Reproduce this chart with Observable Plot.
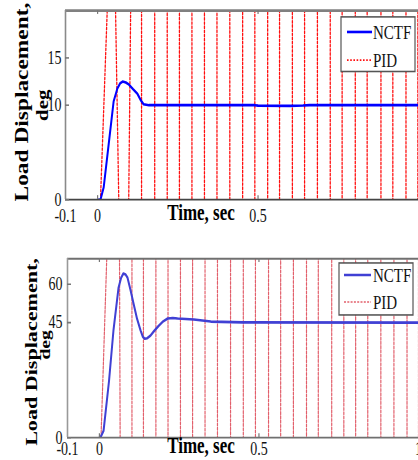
<!DOCTYPE html>
<html><head><meta charset="utf-8">
<script src="https://cdn.jsdelivr.net/npm/d3@7"></script>
<script src="https://cdn.jsdelivr.net/npm/@observablehq/plot@0.6"></script>
<style>
html,body{margin:0;padding:0;background:#fff;width:418px;height:460px;overflow:hidden}
#wrap{position:relative;width:418px;height:460px;overflow:hidden}
#wrap svg{position:absolute;left:0;transform-origin:0 0;overflow:hidden}
</style></head><body><div id="wrap"></div>
<script>
// ---------- data ----------
const xTickLabels = [-0.1, 0, 0.5, 1];

// Panel 1
const topYTicks = [0, 10, 15];
const topNctfT = [0, 0.009, 0.019, 0.035, 0.05, 0.062, 0.07, 0.078, 0.088, 0.097, 0.11, 0.124, 0.135, 0.143, 0.16, 0.3, 0.49, 0.5, 0.6, 0.64, 0.66, 1.0];
const topNctfV = [0, 0, 1.3, 6, 10.4, 11.8, 12.3, 12.5, 12.4, 12.2, 11.7, 11.2, 10.5, 10.1, 10.0, 10.0, 10.0, 9.95, 9.93, 9.96, 10.0, 10.0];
// PID oscillates far off-scale: times where each stroke crosses the first and the second edge of the frame
const topPidFrom = [0.009, 0.056, 0.097, 0.137, 0.178, 0.217, 0.255, 0.294, 0.333, 0.372, 0.412, 0.452, 0.490, 0.530, 0.567, 0.607, 0.645, 0.685, 0.725, 0.762, 0.803, 0.840, 0.883, 0.920, 0.961, 0.998];
const topPidTo   = [0.030, 0.066, 0.103, 0.137, 0.178, 0.217, 0.255, 0.294, 0.333, 0.372, 0.412, 0.452, 0.490, 0.530, 0.567, 0.607, 0.645, 0.685, 0.725, 0.762, 0.803, 0.840, 0.883, 0.920, 0.961, 0.998];
const topPidLow = -4, topPidHigh = 24;

// Panel 2
const botYTicks = [0, 45, 60];
const botNctfT = [0, 0.003, 0.013, 0.03, 0.044, 0.06, 0.068, 0.075, 0.082, 0.088, 0.097, 0.107, 0.118, 0.129, 0.136, 0.142, 0.15, 0.16, 0.172, 0.186, 0.2, 0.214, 0.23, 0.245, 0.296, 0.349, 0.45, 1.0];
const botNctfV = [0, 0, 2.7, 22, 41.9, 58.7, 62.5, 64.2, 63.8, 62.6, 58, 52.4, 46.5, 41.9, 39.5, 38.7, 38.9, 39.9, 41.8, 43.8, 45.5, 46.6, 46.8, 46.6, 46.2, 45.4, 45.1, 45.0];
const botPidFrom = [0.005, 0.063, 0.102, 0.138, 0.177, 0.215, 0.254, 0.292, 0.331, 0.370, 0.411, 0.451, 0.489, 0.530, 0.568, 0.608, 0.649, 0.686, 0.728, 0.766, 0.803, 0.841, 0.882, 0.923, 0.964, 1.0];
const botPidTo   = [0.023, 0.065, 0.102, 0.138, 0.177, 0.215, 0.254, 0.292, 0.331, 0.370, 0.411, 0.451, 0.489, 0.530, 0.568, 0.608, 0.649, 0.686, 0.728, 0.766, 0.803, 0.841, 0.882, 0.923, 0.964, 1.0];
const botPidLow = -10, botPidHigh = 84;

const seriesNames = ["NCTF", "PID"];
const yLabel1 = "Load Displacement,";
const yLabel2 = "deg";
const xLabel = "Time, sec";

// ---------- helpers ----------
const K = 1.3;      // the original picture is stretched vertically
const W = 418;
const serif = "'Liberation Serif','Times New Roman',serif";

function pts(T, V) { return T.map((t, i) => ({t, v: V[i]})); }
// strokes alternate up / down; extend each stroke beyond the frame edges
function pidPts(from, to, y0, y1, lo, hi) {
  const out = [];
  from.forEach((a, i) => {
    const b = to[i];
    if (i % 2 === 0) { // up: crosses y0 at a, y1 at b
      const s = (b - a) / (y1 - y0);
      out.push({t: a + (lo - y0) * s, v: lo}, {t: b + (hi - y1) * s, v: hi});
    } else {           // down: crosses y1 at a, y0 at b
      const s = (b - a) / (y1 - y0);
      out.push({t: a - (hi - y1) * s, v: hi}, {t: b - (lo - y0) * s, v: lo});
    }
  });
  return out;
}

function panel(o) {
  const plotH = o.h - o.mt - o.mb;
  const yUnit = (o.yDomain[1] - o.yDomain[0]) / plotH;
  const xUnit = 1.1 / (W - o.ml);
  const tickLenY = 3 * yUnit, tickLenX = 4 * xUnit;
  const inner = [0, 0.5];
  const svg = Plot.plot({
    width: W, height: o.h,
    marginLeft: o.ml, marginRight: 0, marginTop: o.mt, marginBottom: o.mb,
    style: {fontFamily: serif, fontSize: "14px", color: "#111", background: "transparent"},
    x: {domain: [-0.1, 1], ticks: o.xTicks, tickFormat: d => String(d), tickSize: 0, tickPadding: o.padX, label: null},
    y: {domain: o.yDomain, ticks: o.yTicks, tickFormat: d => String(d), tickSize: 0, tickPadding: o.padY, label: null},
    marks: [
      Plot.line(o.pid, {x: "t", y: "v", stroke: o.pidColor, strokeWidth: o.pidWidth, strokeDasharray: o.pidDash, clip: true}),
      Plot.line(o.nctf, {x: "t", y: "v", stroke: o.nctfColor, strokeWidth: 2, clip: true}),
      Plot.ruleY([o.yDomain[1]], {stroke: o.frameTop, strokeWidth: o.frameTopW}),
      Plot.ruleY([o.yDomain[0]], {stroke: o.frameBottom, strokeWidth: 1.3}),
      Plot.ruleX([-0.1], {stroke: o.frameLeft, strokeWidth: 1.6}),
      Plot.ruleX(inner, {y1: o.yDomain[0], y2: o.yDomain[0] + tickLenY, stroke: "#777", strokeWidth: 1.2}),
      Plot.ruleX(inner, {y1: o.yDomain[1] - tickLenY, y2: o.yDomain[1], stroke: "#777", strokeWidth: 1.2}),
      Plot.ruleY(o.yTicks, {x1: -0.1, x2: -0.1 + tickLenX, stroke: "#777", strokeWidth: 1.2})
    ]
  });
  svg.style.top = o.top + "px";
  svg.style.transform = `scaleY(${K})`;
  const s = d3.select(svg);
  // legend
  const L = o.legend;
  const g = s.append("g").attr("font-family", serif).attr("font-size", 15).attr("fill", "#111").attr("text-anchor", "start");
  g.append("rect").attr("x", L.x).attr("y", L.y).attr("width", L.w).attr("height", L.h)
    .attr("fill", "#fff").attr("stroke", "#555").attr("stroke-width", 1.2);
  const rows = [
    {name: seriesNames[0], y: L.y1, stroke: o.nctfColor, w: 2, dash: null},
    {name: seriesNames[1], y: L.y2, stroke: o.pidColor, w: o.pidWidth, dash: o.pidDash}
  ];
  rows.forEach(r => {
    g.append("line").attr("x1", L.lx1).attr("x2", L.lx2).attr("y1", r.y).attr("y2", r.y)
      .attr("stroke", r.stroke).attr("stroke-width", r.w).attr("stroke-dasharray", r.dash);
    g.append("text").attr("x", L.tx).attr("y", r.y).attr("dy", "0.35em").text(r.name);
  });
  // axis titles
  const t = s.append("g").attr("font-family", serif).attr("font-weight", "bold").attr("fill", "#000").attr("text-anchor", "middle");
  t.append("text").attr("transform", `translate(${o.lab1.x},${o.lab1.y}) rotate(-90)`).attr("font-size", o.lab1.fs).text(yLabel1);
  t.append("text").attr("transform", `translate(${o.lab2.x},${o.lab2.y}) rotate(-90)`).attr("font-size", o.lab2.fs).text(yLabel2);
  t.append("text").attr("x", 201).attr("y", o.xlabY).attr("font-size", 17).text(xLabel);
  return svg;
}

const wrap = document.getElementById("wrap");

wrap.appendChild(panel({
  top: 0, h: 173, mt: 7.7, mb: 19.9, ml: 65,
  yDomain: [0, 20], yTicks: topYTicks, xTicks: xTickLabels.slice(0, 3), padX: 7, padY: 4,
  nctf: pts(topNctfT, topNctfV), pid: pidPts(topPidFrom, topPidTo, 0, 20, topPidLow, topPidHigh),
  nctfColor: "#0000ff", pidColor: "#ff1010", pidWidth: 1.3, pidDash: "1.6,1.6",
  frameTop: "#808080", frameTopW: 2, frameBottom: "#444", frameLeft: "#8a8a8a",
  legend: {x: 341, y: 13, w: 74, h: 42, y1: 24.6, y2: 46.2, lx1: 347, lx2: 372, tx: 373},
  lab1: {x: 28, y: 78.5, fs: 18}, lab2: {x: 47.5, y: 81, fs: 16}, xlabY: 169
}));

wrap.appendChild(panel({
  top: 225, h: 181, mt: 25.4, mb: 17.9, ml: 67,
  yDomain: [0, 70], yTicks: botYTicks, xTicks: xTickLabels, padX: 3, padY: 5,
  nctf: pts(botNctfT, botNctfV), pid: pidPts(botPidFrom, botPidTo, 0, 70, botPidLow, botPidHigh),
  nctfColor: "#4040d4", pidColor: "#e2606c", pidWidth: 1.2, pidDash: "2,1.3",
  frameTop: "#707070", frameTopW: 1.6, frameBottom: "#707070", frameLeft: "#999",
  legend: {x: 339, y: 29.2, w: 74, h: 40, y1: 38.5, y2: 59.2, lx1: 344, lx2: 371, tx: 373},
  lab1: {x: 37, y: 97.7, fs: 17}, lab2: {x: 50, y: 92.3, fs: 15}, xlabY: 175.4
}));
</script></body></html>
